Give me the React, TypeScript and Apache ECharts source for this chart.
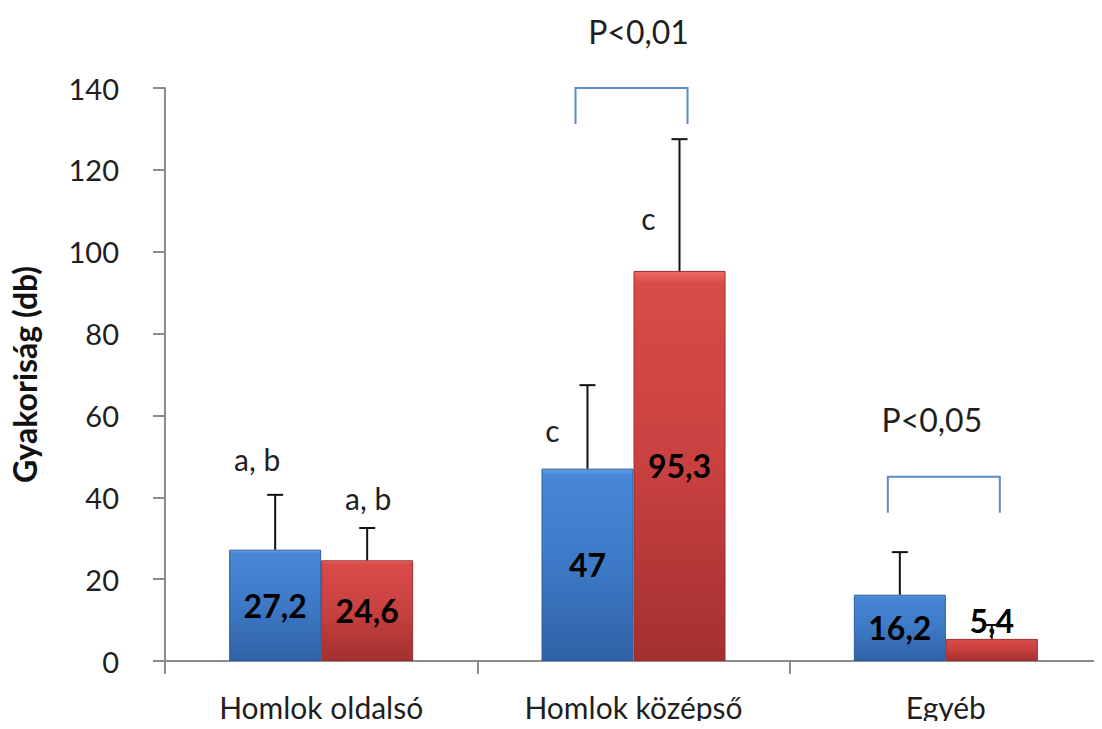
import React, { useEffect, useRef } from "react";
import * as echarts from "echarts";

const categories = ["Homlok oldalsó", "Homlok középső", "Egyéb"];
const blueValues = [27.2, 47, 16.2];
const redValues = [24.6, 95.3, 5.4];
const blueErrors = [13.4, 20.4, 10.4];
const redErrors = [7.9, 32.2, 3.4];
const valueLabels = { blue: ["27,2", "47", "16,2"], red: ["24,6", "95,3", "5,4"] };

const yMin = 0;
const yMax = 140;
const yInterval = 20;

// letter annotations (category index, bar side, y value, text)
const noteCats = [0, 0, 1, 1];
const noteSides = [-1, 1, -1, 1];
const noteValues = [49.3, 39.8, 56.4, 108.2];
const noteTexts = ["a, b", "a, b", "c", "c"];
const noteDx = [-18, 1, -35, -31];

// significance brackets
const sigCats = [1, 2];
const sigTop = [140, 45];
const sigLeg = [131.2, 36.2];
const sigTextValue = [153.7, 58.9];
const sigTexts = ["P<0,01", "P<0,05"];
const sigTextDx = [5, -14];

const FONT = "Lato, 'Liberation Sans', sans-serif";
const BAR_W = 92;
const HALF = BAR_W / 2;

const blueGrad = new echarts.graphic.LinearGradient(0, 0, 0, 1, [
  { offset: 0, color: "#62A2EA" },
  { offset: 0.03, color: "#4787D6" },
  { offset: 0.5, color: "#3D79C6" },
  { offset: 1, color: "#2F62A6" },
]);
const redGrad = new echarts.graphic.LinearGradient(0, 0, 0, 1, [
  { offset: 0, color: "#F06A66" },
  { offset: 0.03, color: "#D84B49" },
  { offset: 0.5, color: "#C84140" },
  { offset: 1, color: "#A3302F" },
]);

export default function App() {
  const ref = useRef<HTMLDivElement>(null);
  useEffect(() => {
    if (!ref.current) return;
    const chart = echarts.init(ref.current, null, { renderer: "svg" });

    const errSeries = (vals: number[], errs: number[], side: number) => ({
      type: "custom",
      clip: false,
      z: 5,
      data: vals.map((v, i) => [i, v, errs[i]]),
      encode: { x: 0, y: 1 },
      renderItem: (params: any, api: any) => {
        const i = api.value(0);
        const v = api.value(1);
        const e = api.value(2);
        if (!e) return null;
        const base = api.coord([i, v]);
        const top = api.coord([i, v + e]);
        const x = base[0] + side * HALF;
        return {
          type: "group",
          children: [
            { type: "line", shape: { x1: x, y1: base[1], x2: x, y2: top[1] }, style: { stroke: "#111", lineWidth: 2 } },
            { type: "line", shape: { x1: x - 8, y1: top[1], x2: x + 8, y2: top[1] }, style: { stroke: "#111", lineWidth: 2 } },
          ],
        };
      },
    });

    const labelFor = (key: "blue" | "red") => (p: any) => valueLabels[key][p.dataIndex];

    chart.setOption({
      animation: false,
      grid: { left: 158, top: 88, height: 573, width: 952 },
      xAxis: {
        type: "category",
        data: categories,
        axisLine: { lineStyle: { color: "#8C8C8C", width: 2 } },
        axisTick: { show: true, length: 13, lineStyle: { color: "#8C8C8C", width: 2 } },
        axisLabel: { fontFamily: FONT, fontSize: 30, color: "#1F1F1F", margin: 31 },
      },
      yAxis: {
        type: "value",
        min: yMin,
        max: yMax,
        interval: yInterval,
        name: "Gyakoriság (db)",
        nameLocation: "middle",
        nameRotate: 90,
        nameGap: 125,
        nameTextStyle: { fontFamily: FONT, fontSize: 32, fontWeight: "bold", color: "#111" },
        axisLine: { show: true, lineStyle: { color: "#8C8C8C", width: 2 } },
        axisTick: { show: true, length: 12, lineStyle: { color: "#8C8C8C", width: 2 } },
        splitLine: { show: false },
        axisLabel: { fontFamily: FONT, fontSize: 29, color: "#1F1F1F", margin: 46 },
      },
      series: [
        {
          type: "bar",
          data: blueValues.map((v) => ({ value: v, label: { position: v < 10 ? "top" : "inside" } })),
          barWidth: BAR_W,
          barGap: "0%",
          itemStyle: { color: blueGrad, borderColor: "#2E5C9A", borderWidth: 1 },
          label: { show: true, formatter: labelFor("blue"), fontFamily: FONT, fontSize: 32, fontWeight: "bold", color: "#000", distance: 2 },
        },
        {
          type: "bar",
          data: redValues.map((v) => ({ value: v, label: { position: v < 10 ? "top" : "inside" } })),
          barWidth: BAR_W,
          barGap: "0%",
          itemStyle: { color: redGrad, borderColor: "#9A2D2C", borderWidth: 1 },
          label: { show: true, formatter: labelFor("red"), fontFamily: FONT, fontSize: 32, fontWeight: "bold", color: "#000", distance: 2 },
        },
        errSeries(blueValues, blueErrors, -1),
        errSeries(redValues, redErrors, 1),
        {
          type: "custom",
          clip: false,
          z: 6,
          data: noteCats.map((c, i) => [c, noteValues[i]]),
          encode: { x: 0, y: 1 },
          renderItem: (params: any, api: any) => {
            const k = params.dataIndex;
            const p = api.coord([api.value(0), api.value(1)]);
            return {
              type: "text",
              x: p[0] + noteSides[k] * HALF + noteDx[k],
              y: p[1],
              style: { text: noteTexts[k], font: `30px ${FONT}`, fill: "#1F1F1F", align: "center", verticalAlign: "middle" },
            };
          },
        },
        {
          type: "custom",
          clip: false,
          z: 6,
          data: sigCats.map((c, i) => [c, sigTop[i], sigLeg[i], sigTextValue[i]]),
          encode: { x: 0, y: 1 },
          renderItem: (params: any, api: any) => {
            const k = params.dataIndex;
            const c = api.value(0);
            const t = api.coord([c, api.value(1)]);
            const l = api.coord([c, api.value(2)]);
            const tx = api.coord([c, api.value(3)]);
            const x1 = t[0] - 58;
            const x2 = t[0] + 54;
            return {
              type: "group",
              children: [
                {
                  type: "polyline",
                  shape: { points: [[x1, l[1]], [x1, t[1]], [x2, t[1]], [x2, l[1]]] },
                  style: { stroke: "#5B8BCB", lineWidth: 2, fill: null },
                },
                {
                  type: "text",
                  x: tx[0] + sigTextDx[k],
                  y: tx[1],
                  style: { text: sigTexts[k], font: `32px ${FONT}`, fill: "#1F1F1F", align: "center", verticalAlign: "middle" },
                },
              ],
            };
          },
        },
      ],
    });
    return () => chart.dispose();
  }, []);
  return <div ref={ref} style={{ width: 1102, height: 729, margin: -8 }} />;
}
